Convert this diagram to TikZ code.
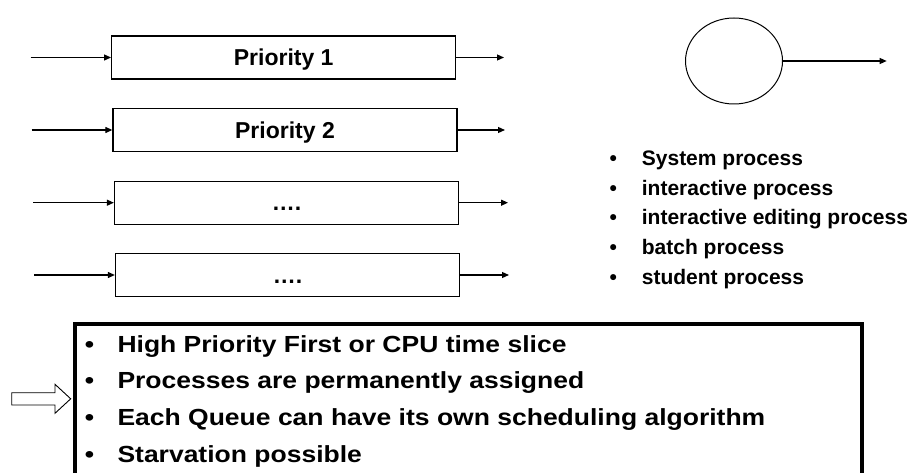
\documentclass[tikz,border=0pt]{standalone}
\usepackage{fontspec}
\usepackage{graphicx}
\setmainfont{Liberation Sans}
\usetikzlibrary{arrows.meta,shapes.geometric}
\tikzset{
  qbox/.style={draw=black, line width=1.3pt, minimum width=344pt, minimum height=43pt, inner sep=0pt,
    text height=16.5pt, text depth=0pt,
    font=\fontsize{23}{27}\selectfont\bfseries},
  flow/.style={draw=black, line width=1.2pt, -{Triangle[length=7pt,width=6pt]}},
  rtxt/.style={anchor=base west, inner sep=0pt, font=\fontsize{21}{25}\selectfont\bfseries},
  btxt/.style={anchor=base west, inner sep=0pt, font=\fontsize{23.3}{27}\selectfont\bfseries},
  bigbox/.style={draw=black, line width=4pt},
  hollow/.style={draw=black, line width=0.9pt, fill=white}
}
\newcommand{\rb}[1]{\makebox[32.4pt][l]{•}#1}
\newcommand{\bb}[1]{\scalebox{1.137}[1]{\makebox[28.7pt][l]{•}#1}}
\begin{document}
\begin{tikzpicture}[x=1pt,y=-1pt]
\useasboundingbox (0,0) rectangle (915,473);
\clip (0,0) rectangle (915,473);
% queues
\node[qbox] (b1) at (283.7,57.5) {Priority 1};
\node[qbox] (b2) at (285,130) {Priority 2};
\node[qbox] (b3) at (286.5,202.7) {….};
\node[qbox] (b4) at (287.5,275) {….};
\coordinate (i1) at (30.7,57.5);
\coordinate (i2) at (31.7,130);
\coordinate (i3) at (33.3,202.7);
\coordinate (i4) at (34.3,275);
\coordinate (o1) at (504,57.5);
\coordinate (o2) at (505,130);
\coordinate (o3) at (508,202.7);
\coordinate (o4) at (509,275);
\draw[flow] (i1) -- (b1.west);
\draw[flow] (i2) -- (b2.west);
\draw[flow] (i3) -- (b3.west);
\draw[flow] (i4) -- (b4.west);
\draw[flow] (b1.east) -- (o1);
\draw[flow] (b2.east) -- (o2);
\draw[flow] (b3.east) -- (o3);
\draw[flow] (b4.east) -- (o4);
% processor
\node[ellipse, draw=black, line width=1pt, minimum width=97pt, minimum height=86pt, inner sep=0pt] (cpu) at (734,61) {};
\coordinate (co) at (886.7,61);
\draw[flow] (cpu.east) -- (co);
% right list
\node[rtxt] (r1) at (609.3,165.5) {\rb{System process}};
\node[rtxt] (r2) at (609.3,195.2) {\rb{interactive process}};
\node[rtxt] (r3) at (609.3,224.9) {\rb{interactive editing process}};
\node[rtxt] (r4) at (609.3,254.6) {\rb{batch process}};
\node[rtxt] (r5) at (609.3,284.3) {\rb{student process}};
% bottom box
\draw[bigbox] (75.3,323.7) rectangle (862,500);
\node[btxt] (l1) at (84.7,352.3) {\bb{High Priority First or CPU time slice}};
\node[btxt] (l2) at (84.7,388.9) {\bb{Processes are permanently assigned}};
\node[btxt] (l3) at (84.7,425.6) {\bb{Each Queue can have its own scheduling algorithm}};
\node[btxt] (l4) at (84.7,462.2) {\bb{Starvation possible}};
% hollow arrow
\draw[hollow] (11.7,392.7) -- (55,392.7) -- (55,384.3) -- (70.7,398.8) -- (55,413.3) -- (55,405) -- (11.7,405) -- cycle;
\end{tikzpicture}
\end{document}
